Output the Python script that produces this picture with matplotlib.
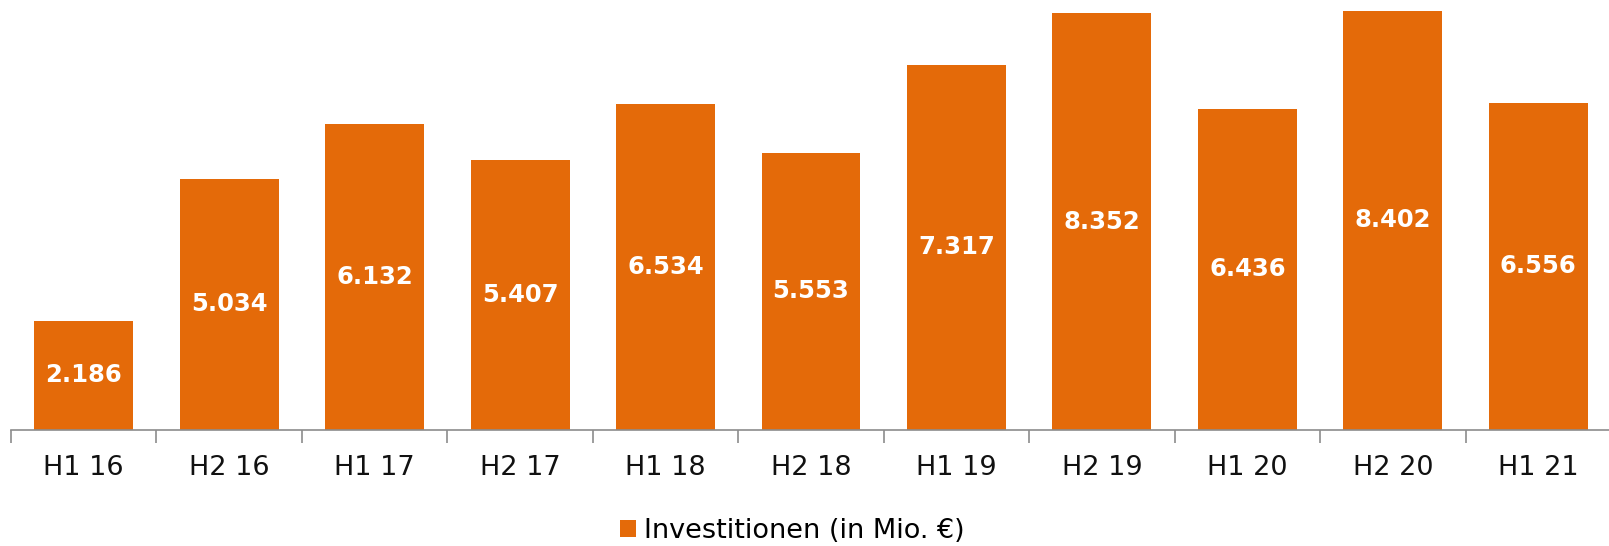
import matplotlib
matplotlib.use("Agg")
import matplotlib.pyplot as plt
import numpy as np

# Data
categories = ["H1 16", "H2 16", "H1 17", "H2 17", "H1 18", "H2 18",
              "H1 19", "H2 19", "H1 20", "H2 20", "H1 21"]
investments = [2.186, 5.034, 6.132, 5.407, 6.534, 5.553,
               7.317, 8.352, 6.436, 8.402, 6.556]
value_labels = ["2.186", "5.034", "6.132", "5.407", "6.534", "5.553",
                "7.317", "8.352", "6.436", "8.402", "6.556"]
series_name = "Investitionen (in Mio. \u20ac)"

ORANGE = "#E46A09"
GREY = "#8C8C8C"

W, H, DPI = 1609, 546, 100
fig = plt.figure(figsize=(W / DPI, H / DPI), dpi=DPI)

# axis from x=11px to ~1611px, baseline at y=430px from top
ax = fig.add_axes([11 / W, (H - 430) / H, 1600 / W, 430 / H])

x = np.arange(len(categories))
bars = ax.bar(x, investments, width=0.68, color=ORANGE, label=series_name)

for rect, lab in zip(bars, value_labels):
    ax.text(rect.get_x() + rect.get_width() / 2, rect.get_height() / 2, lab,
            ha="center", va="center", color="white", fontsize=17.5,
            fontweight="bold", family="DejaVu Sans")

ax.set_xlim(-0.5, len(categories) - 0.5)
ax.set_ylim(0, 8.62)

for s in ["top", "right", "left"]:
    ax.spines[s].set_visible(False)
ax.spines["bottom"].set_color(GREY)
ax.spines["bottom"].set_linewidth(1.2)

ax.set_yticks([])
ax.set_xticks(x)
ax.set_xticklabels(categories, fontsize=19.5, color="#111111")
ax.tick_params(axis="x", which="major", length=0, pad=18)
ax.set_xticks(np.arange(len(categories) + 1) - 0.5, minor=True)
ax.tick_params(axis="x", which="minor", length=9, width=1.2, color=GREY,
               direction="out")

fig.legend(handles=[bars], labels=[series_name], loc="center",
           bbox_to_anchor=(792 / W, 1 - 531 / H), frameon=False,
           fontsize=19.5, handlelength=0.6, handleheight=0.6,
           handletextpad=0.3, borderpad=0)

fig.savefig("out.png", dpi=DPI)
